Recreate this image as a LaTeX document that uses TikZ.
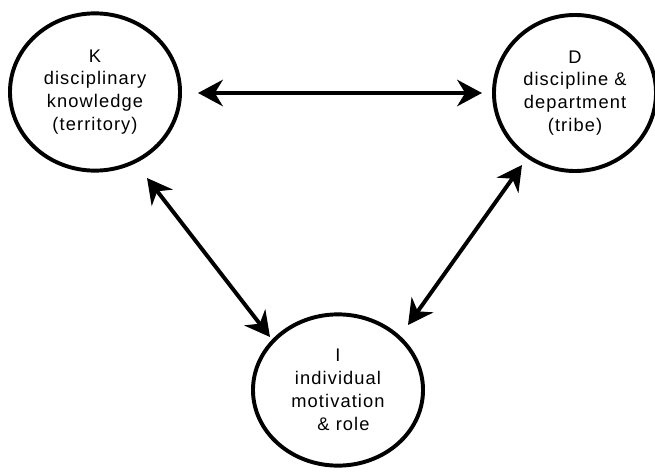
\documentclass[tikz,border=0pt]{standalone}
\usepackage{fontspec}
\setmainfont{Liberation Sans}
\newfontfamily\lblfont[LetterSpace=6]{Liberation Sans}
\usetikzlibrary{arrows.meta,shapes.geometric}
\begin{document}
\begin{tikzpicture}[x=0.025cm,y=-0.025cm,>={Stealth[length=0.62cm,width=0.66cm,inset=0.2cm]},line join=round,font=\lblfont\fontsize{13}{16.3}\selectfont,
	blob/.style={ellipse,draw,line width=2.8pt,align=center,inner sep=0pt,minimum width=4.25cm,minimum height=3.93cm},
	link/.style={<->,line width=2.8pt}]
		\useasboundingbox (0,0) rectangle (655,472);
		\node[blob] (K) at (95,92) {K\\disciplinary\\knowledge\\(territory)};
		\node[blob,minimum width=4.05cm,minimum height=3.9cm] (D) at (575,93) {D\\discipline \&\\department\\(tribe)};
		\node[blob,minimum height=3.78cm] (I) at (338,390) {I\\individual\\motivation\\\hspace{0.6em}\& role};
		\draw[link] ([shift={(103,1)}]K.center)--([shift={(-93,0)}]D.center);
		\draw[link] ([shift={(52,86)}]K.center)--([shift={(-68,-53)}]I.center);
		\draw[link] ([shift={(-53,72)}]D.center)--([shift={(70,-65)}]I.center);
\end{tikzpicture}
\end{document}
